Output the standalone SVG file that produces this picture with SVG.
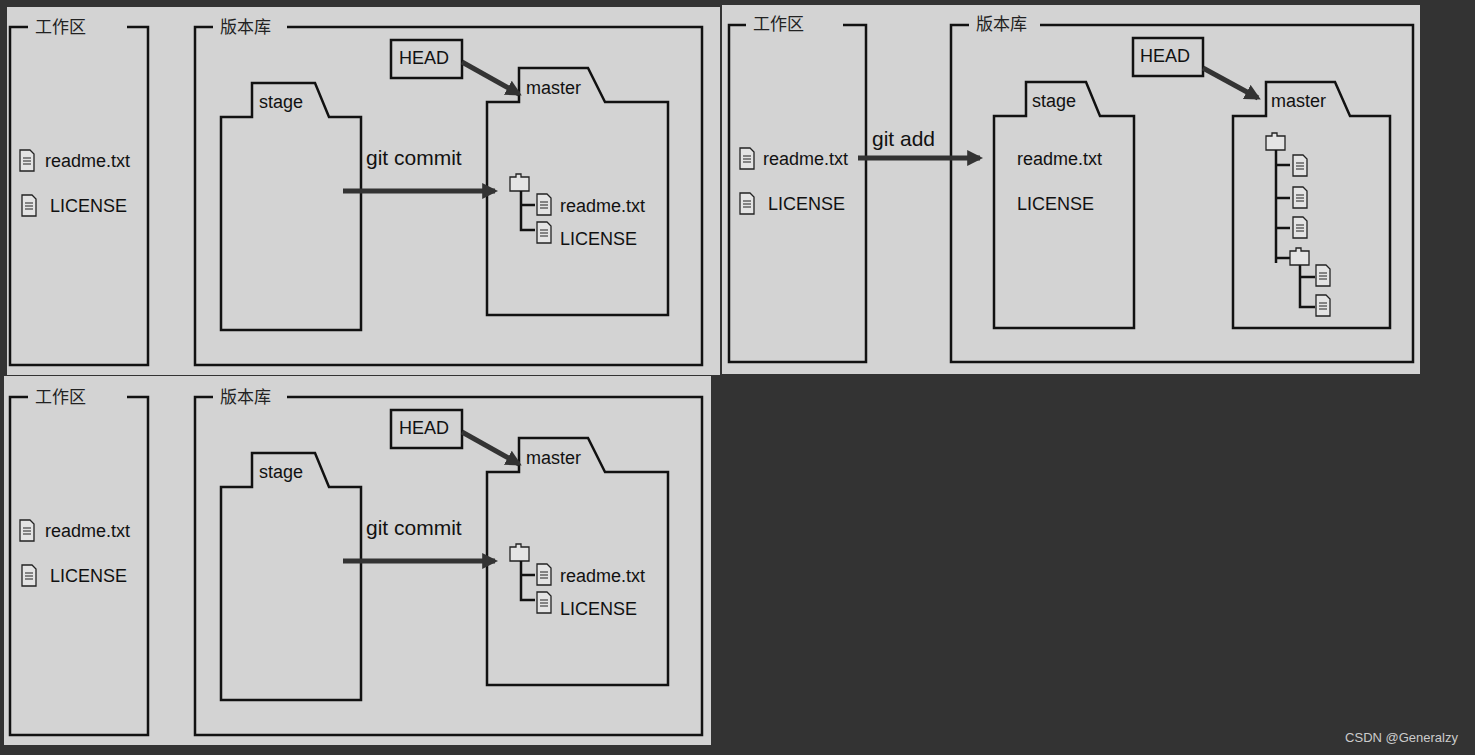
<svg xmlns="http://www.w3.org/2000/svg" width="1475" height="755" viewBox="0 0 1475 755" xmlns:xlink="http://www.w3.org/1999/xlink">
<style>
.bg{fill:#d3d3d3}
.ln{fill:none;stroke:#111;stroke-width:2.5}
.ar{fill:none;stroke:#333;stroke-width:5}
.t{font-family:"Liberation Sans",Arial,sans-serif;font-size:18px;fill:#111}
.c{font-family:"Noto Sans CJK SC",sans-serif;font-size:17px;fill:#222}
.g{font-family:"Liberation Sans",Arial,sans-serif;font-size:21px;fill:#111}
.ic{fill:#e4e4e4;stroke:#222;stroke-width:1.3}
.tr{fill:none;stroke:#111;stroke-width:2.5}
</style>
<defs>
<marker id="ah" viewBox="0 0 10 10" refX="8" refY="5" markerWidth="3.2" markerHeight="3.2" orient="auto"><path d="M0,0L10,5L0,10z" fill="#333"/></marker>
<g id="file"><path class="ic" d="M0,0h10l4,4v17h-14z"/><path d="M3,8h8M3,11h8M3,14h8" stroke="#222" stroke-width="1"/></g>
<g id="fold"><path class="ic" d="M0,3h6v-3h5v3h8v14h-19z"/></g>
<g id="panelA">
<g id="wsA"><path class="ln" d="M21,20H3V358H141V20H120"/><text class="c" x="28" y="26">工作区</text>
<use href="#file" x="13" y="143"/><text class="t" x="38" y="160">readme.txt</text>
<use href="#file" x="15" y="188"/><text class="t" x="43" y="205">LICENSE</text></g>
<g id="repoA"><path class="ln" d="M206,20H188V358H695V20H280"/><text class="c" x="213" y="26">版本库</text></g>
<g id="stageA"><path class="ln" d="M245,110V76H308L322,110H354V323H214V110Z"/><text class="t" x="252" y="101">stage</text></g>
<g id="masterA"><path class="ln" d="M512,95V61H581L598,95H661V308H480V95Z"/><text class="t" x="519" y="87">master</text></g>
<g id="headA"><rect class="ln" x="384" y="33" width="71" height="38" fill="none"/><text class="t" x="392" y="57">HEAD</text></g>
<g id="connA">
<line class="ar" x1="455" y1="55" x2="512" y2="87" marker-end="url(#ah)"/>
<line class="ar" x1="336" y1="184" x2="488" y2="184" marker-end="url(#ah)"/>
</g>
<text class="g" x="359" y="158">git commit</text>
<use href="#fold" x="503" y="167"/>
<path class="tr" d="M514,184V223H528M514,198H528"/>
<use href="#file" x="530" y="187"/><use href="#file" x="530" y="215"/>
<text class="t" x="553" y="205">readme.txt</text><text class="t" x="553" y="238">LICENSE</text>
</g>
</defs>
<rect width="1475" height="755" fill="#333"/>
<g id="panel1"><rect class="bg" x="7" y="7" width="713" height="368"/><use href="#panelA" x="7" y="7"/></g>
<g id="panel3"><rect class="bg" x="4" y="376" width="707" height="369"/><use href="#panelA" x="7" y="377"/></g>
<g id="panel2">
<rect class="bg" x="722" y="5" width="698" height="369"/>
<g id="ws2"><path class="ln" d="M746,25H729V362H866V25H843"/><text class="c" x="753" y="30">工作区</text>
<use href="#file" x="740" y="148"/><text class="t" x="763" y="165">readme.txt</text>
<use href="#file" x="740" y="193"/><text class="t" x="768" y="210">LICENSE</text></g>
<g id="repo2"><path class="ln" d="M969,25H951V362H1413V25H1040"/><text class="c" x="976" y="30">版本库</text></g>
<g id="stage2"><path class="ln" d="M1026,116V82H1086L1100,116H1134V328H994V116Z"/><text class="t" x="1032" y="107">stage</text>
<text class="t" x="1017" y="165">readme.txt</text><text class="t" x="1017" y="210">LICENSE</text></g>
<g id="master2"><path class="ln" d="M1266,116V82H1335L1350,116H1390V328H1233V116Z"/><text class="t" x="1271" y="107">master</text>
<use href="#fold" x="1266" y="133"/>
<path class="tr" d="M1276,150V263M1276,165H1290M1276,198H1290M1276,228H1290M1276,258H1290M1300,265V307H1315M1300,277H1315"/>
<use href="#file" x="1293" y="155"/><use href="#file" x="1293" y="187"/><use href="#file" x="1293" y="217"/>
<use href="#fold" x="1290" y="248"/>
<use href="#file" x="1316" y="265"/><use href="#file" x="1316" y="295"/></g>
<g id="head2"><rect class="ln" x="1133" y="38" width="70" height="38"/><text class="t" x="1140" y="62">HEAD</text></g>
<g id="conn2">
<line class="ar" x1="1203" y1="68" x2="1258" y2="98" marker-end="url(#ah)"/>
<line class="ar" x1="858" y1="158" x2="980" y2="158" marker-end="url(#ah)"/>
</g>
<text class="g" x="872" y="146">git add</text>
</g>
<text x="1458" y="742" text-anchor="end" font-family="Liberation Sans, Arial, sans-serif" font-size="13" fill="#ccc">CSDN @Generalzy</text>
</svg>
